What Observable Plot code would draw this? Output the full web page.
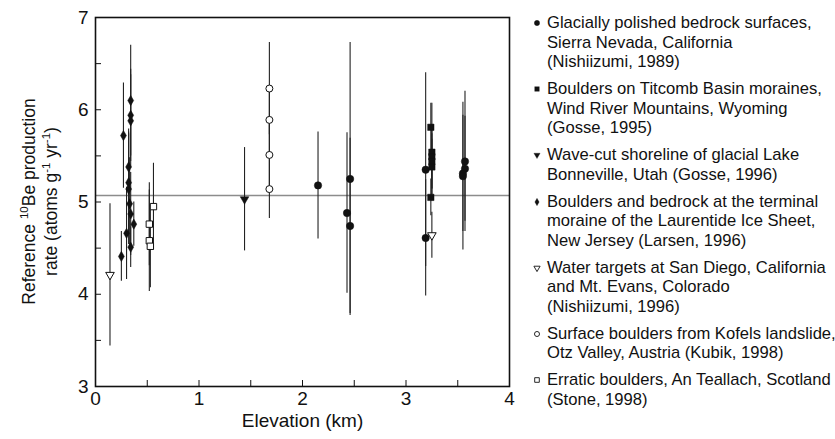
<!DOCTYPE html>
<html><head><meta charset="utf-8">
<script src="https://cdn.jsdelivr.net/npm/d3@7"></script>
<script src="https://cdn.jsdelivr.net/npm/@observablehq/plot@0.6"></script>
<style>
body{margin:0;background:#fff;font-family:"Liberation Sans",Arial,sans-serif;}
#wrap{position:relative;width:835px;height:439px;overflow:hidden}
#chart{position:absolute;left:0;top:0}
#legend{position:absolute;left:525px;top:13px;font-size:16.6px;line-height:19.5px;color:#111}
.item{position:relative;padding-left:22px;margin-bottom:7.5px;white-space:nowrap}
.item svg{position:absolute;left:6px;top:4px}
</style></head><body><div id="wrap"><div id="chart"></div><div id="legend"></div></div>
<script>
// ---- data (elevation km, rate, 1-sigma error) ----
const sierraX   = [2.15, 2.46, 2.43, 2.46, 3.19, 3.19, 3.57, 3.57, 3.55, 3.55];
const sierraY   = [5.18, 5.25, 4.88, 4.74, 5.35, 4.61, 5.44, 5.36, 5.31, 5.28];
const sierraErr = [0.58, 1.48, 0.87, 0.95, 1.05, 0.63, 0.76, 0.57, 0.63, 0.80];

const titcombX   = [3.24, 3.25, 3.25, 3.25, 3.25, 3.24];
const titcombY   = [5.81, 5.54, 5.49, 5.44, 5.38, 5.05];
const titcombErr = [0.26, 0.53, 0.35, 0.30, 0.30, 0.20];

const bonnevilleX   = [1.44];
const bonnevilleY   = [5.03];
const bonnevilleErr = [0.56];

const laurentideX   = [0.25, 0.27, 0.30, 0.32, 0.32, 0.32, 0.33, 0.34, 0.34, 0.34, 0.34, 0.34, 0.37];
const laurentideY   = [4.41, 5.72, 4.66, 5.38, 5.21, 5.14, 4.98, 4.51, 4.87, 6.10, 5.94, 5.88, 4.76];
const laurentideErr = [0.27, 0.57, 0.50, 0.41, 0.55, 0.60, 0.50, 0.22, 0.45, 0.60, 0.50, 0.50, 0.24];

const waterX   = [0.14, 3.25];
const waterY   = [4.21, 4.64];
const waterErr = [0.77, 0.25];

const kofelsX   = [1.68, 1.68, 1.68, 1.68];
const kofelsY   = [6.23, 5.89, 5.51, 5.14];
const kofelsErr = [0.50, 0.35, 0.35, 0.32];

const stoneX   = [0.52, 0.52, 0.53, 0.56];
const stoneY   = [4.76, 4.58, 4.52, 4.95];
const stoneErr = [0.45, 0.55, 0.45, 0.47];

const referenceRate = [5.07];

const xTickLabels = [0, 1, 2, 3, 4];
const yTickLabels = [3, 4, 5, 6, 7];
const xMinorTicks = [0.5, 1, 1.5, 2, 2.5, 3, 3.5];
const yMinorTicks = [3.5, 4, 4.5, 5, 5.5, 6, 6.5];

const legendLabels = [
  ["Glacially polished bedrock surfaces,", "Sierra Nevada, California", "(Nishiizumi, 1989)"],
  ["Boulders on Titcomb Basin moraines,", "Wind River Mountains, Wyoming", "(Gosse, 1995)"],
  ["Wave-cut shoreline of glacial Lake", "Bonneville, Utah (Gosse, 1996)"],
  ["Boulders and bedrock at the terminal", "moraine of the Laurentide Ice Sheet,", "New Jersey (Larsen, 1996)"],
  ["Water targets at San Diego, California", "and Mt. Evans, Colorado", "(Nishiizumi, 1996)"],
  ["Surface boulders from Kofels landslide,", "Otz Valley, Austria (Kubik, 1998)"],
  ["Erratic boulders, An Teallach, Scotland", "(Stone, 1998)"]
];

// ---- build ----
const series = [
  {x: sierraX, y: sierraY, e: sierraErr, symbol: "circle", fill: "#111", r: 3.7, rotate: 0},
  {x: titcombX, y: titcombY, e: titcombErr, symbol: "square", fill: "#111", r: 3.6, rotate: 0},
  {x: bonnevilleX, y: bonnevilleY, e: bonnevilleErr, symbol: "triangle", fill: "#111", r: 3.2, rotate: 180},
  {x: laurentideX, y: laurentideY, e: laurentideErr, symbol: "diamond", fill: "#111", r: 3.1, rotate: 0},
  {x: waterX, y: waterY, e: waterErr, symbol: "triangle", fill: "#fff", r: 3.2, rotate: 180},
  {x: kofelsX, y: kofelsY, e: kofelsErr, symbol: "circle", fill: "#fff", r: 3.5, rotate: 0},
  {x: stoneX, y: stoneY, e: stoneErr, symbol: "square", fill: "#fff", r: 3.6, rotate: 0}
];
const rowsOf = s => s.x.map((x, i) => ({x, y: s.y[i], e: s.e[i]}));
const allRows = series.flatMap(rowsOf);

const W = 520, H = 439, mL = 95, mR = 11, mT = 17, mB = 53;
const fw = W - mL - mR, fh = H - mT - mB;

const plot = Plot.plot({
  width: W, height: H, marginLeft: mL, marginRight: mR, marginTop: mT, marginBottom: mB,
  x: {domain: [0, 4]}, y: {domain: [3, 7]},
  style: {fontFamily: "'Liberation Sans', Arial, sans-serif", fontSize: "19px", color: "#111", background: "#fff"},
  marks: [
    Plot.ruleY(referenceRate, {y: d => d, stroke: "#8c8c8c", strokeWidth: 1.5}),
    Plot.ruleX(allRows, {x: "x", y1: d => d.y - d.e, y2: d => d.y + d.e, stroke: "#222", strokeWidth: 1.1}),
    ...series.map(s => Plot.dot(rowsOf(s), {x: "x", y: "y", symbol: () => s.symbol, r: s.r, fill: s.fill,
      stroke: "#111", strokeWidth: s.fill === "#fff" ? 1 : 0.5, rotate: s.rotate})),
    Plot.tickX(xMinorTicks, {x: d => d, insetTop: fh - 6, stroke: "#111", strokeWidth: 1}),
    Plot.tickY(yMinorTicks, {y: d => d, insetRight: fw - 6, stroke: "#111", strokeWidth: 1}),
    Plot.axisX({ticks: xTickLabels, tickSize: 0, tickPadding: 5, label: null, tickFormat: d => String(d), fontSize: 19}),
    Plot.axisY({ticks: yTickLabels, tickSize: 0, tickPadding: 7, label: null, tickFormat: d => String(d), fontSize: 19}),
    Plot.frame({stroke: "#111", strokeWidth: 1.6}),
    Plot.text(["Elevation (km)"], {frameAnchor: "bottom", dy: 40, fontSize: 19, fill: "#111"})
  ]
});
document.getElementById("chart").append(plot);

// y-axis title with superscripts
const svg = d3.select(plot);
const cy = mT + fh / 2;
const t1 = svg.append("text").attr("transform", `translate(35,${cy}) rotate(-90)`)
  .attr("text-anchor", "middle").attr("font-size", 17.5).attr("fill", "#111");
t1.append("tspan").text("Reference ");
t1.append("tspan").attr("font-size", 11.5).attr("dy", -7).text("10");
t1.append("tspan").attr("dy", 7).text("Be production");
const t2 = svg.append("text").attr("transform", `translate(57,${cy}) rotate(-90)`)
  .attr("text-anchor", "middle").attr("font-size", 17.5).attr("fill", "#111");
t2.append("tspan").text("rate (atoms g");
t2.append("tspan").attr("font-size", 11.5).attr("dy", -7).text("-1");
t2.append("tspan").attr("dy", 7).text(" yr");
t2.append("tspan").attr("font-size", 11.5).attr("dy", -7).text("-1");
t2.append("tspan").attr("dy", 7).text(")");

// legend
const leg = d3.select("#legend");
series.forEach((s, i) => {
  const item = leg.append("div").attr("class", "item");
  const sv = item.append("svg").attr("width", 12).attr("height", 12);
  const sym = {circle: d3.symbolCircle, square: d3.symbolSquare, triangle: d3.symbolTriangle, diamond: d3.symbolDiamond}[s.symbol];
  sv.append("path").attr("d", d3.symbol(sym, Math.PI * (s.r * 0.72) ** 2)())
    .attr("transform", `translate(6,6) rotate(${s.rotate})`)
    .attr("fill", s.fill).attr("stroke", "#111").attr("stroke-width", s.fill === "#fff" ? 0.9 : 0.3);
  item.append("div").html(legendLabels[i].join("<br>"));
});
</script></body></html>
